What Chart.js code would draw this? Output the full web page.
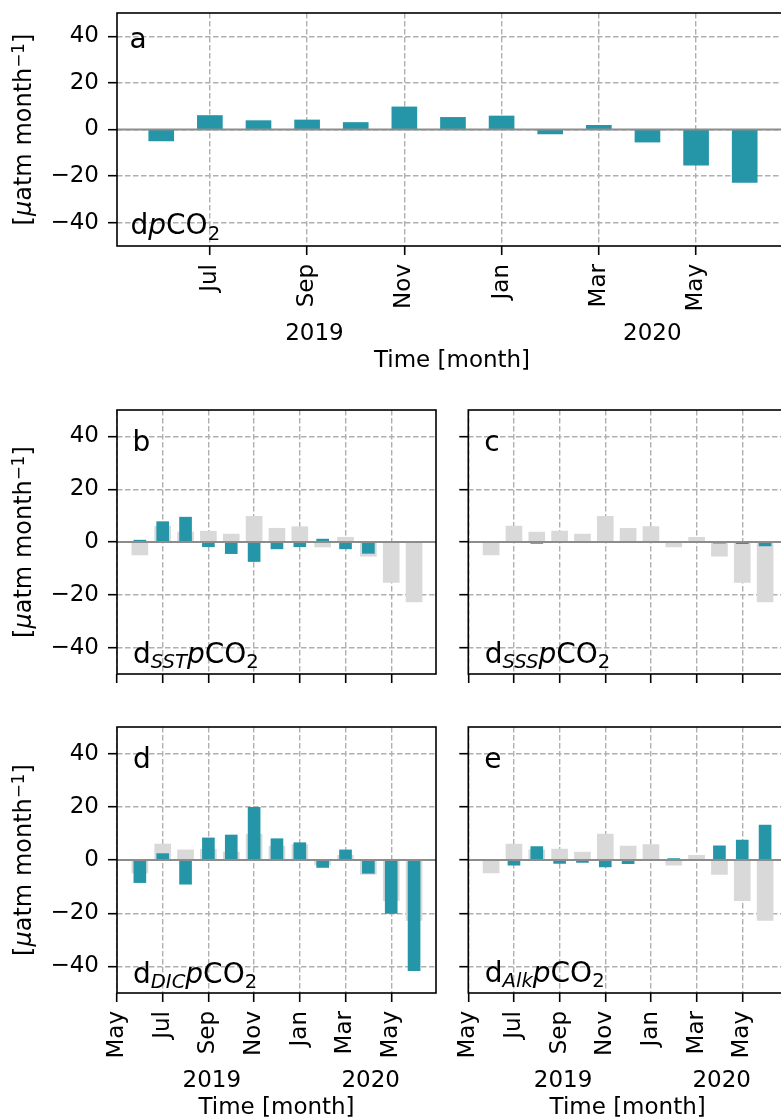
<!DOCTYPE html>
<html><head><meta charset="utf-8">
<script src="https://cdn.jsdelivr.net/npm/chart.js@4.4.1/dist/chart.umd.min.js"></script>
<style>
html,body{margin:0;padding:0;background:#fff;width:781px;height:1117px;overflow:hidden;position:relative}
canvas{position:absolute}
</style></head><body>
<canvas id="pa" width="900" height="385" style="left:0;top:0"></canvas>
<canvas id="pb" width="450" height="300" style="left:0;top:385px"></canvas>
<canvas id="pc" width="450" height="300" style="left:450px;top:385px"></canvas>
<canvas id="pd" width="450" height="440" style="left:0;top:685px"></canvas>
<canvas id="pe" width="450" height="440" style="left:450px;top:685px"></canvas>
<script>
// ---- data ----
const monthNames = ['May','Jun','Jul','Aug','Sep','Oct','Nov','Dec','Jan','Feb','Mar','Apr','May','Jun','Jul'];
const barMonths = [1,2,3,4,5,6,7,8,9,10,11,12,13]; // months since May 2019 (Jun 2019 .. Jun 2020)
const dpCO2 = [-4.9, 6.0, 3.8, 4.1, 3.0, 9.7, 5.2, 5.8, -1.9, 1.8, -5.4, -15.3, -22.7];
const dSST  = [0.7, 7.7, 9.4, -1.8, -4.4, -7.4, -2.6, -1.8, 1.1, -2.6, -4.3, 0, 0];
const dSSS  = [0, 0, -0.5, 0, 0, 0, 0, 0, 0, 0, -0.4, -0.6, -1.5];
const dDIC  = [-8.5, 2.4, -9.1, 8.3, 9.4, 19.8, 8.0, 6.5, -2.8, 3.8, -5.0, -20.1, -41.6];
const dAlk  = [0, -1.9, 5.0, -1.3, -0.9, -2.6, -1.4, 0, 0.5, 0, 5.3, 7.5, 13.1];
const yTicks = [-40, -20, 0, 20, 40];
const xTickMonths = [0, 2, 4, 6, 8, 10, 12, 14];
const years = ['2019', '2020'];
const yearPos = [4.15, 11.1];

// ---- style ----
const FAM = "'DejaVu Sans', sans-serif";
const TICK = 23, ANN = 28;
const TEAL = '#2496a8', GRAY = '#d9d9d9', GRID = '#b0b0b0', ZERO = '#8c8c8c';

const fmt = v => v < 0 ? '\u2212' + Math.abs(v) : String(v);

function richWidth(ctx, parts, size) {
  let w = 0;
  for (const p of parts) {
    const s = (p.sub || p.sup) ? size * 0.7 : size;
    ctx.font = (p.it ? 'italic ' : '') + s + 'px ' + FAM;
    w += ctx.measureText(p.t).width;
  }
  return w;
}
function drawRich(ctx, x, y, parts, size) {
  let cx = x;
  ctx.textAlign = 'left'; ctx.textBaseline = 'alphabetic';
  for (const p of parts) {
    const s = (p.sub || p.sup) ? size * 0.7 : size;
    ctx.font = (p.it ? 'italic ' : '') + s + 'px ' + FAM;
    const dy = p.sub ? size * 0.2 : (p.sup ? -size * 0.3 : 0);
    ctx.fillText(p.t, cx, y + dy);
    cx += ctx.measureText(p.t).width;
  }
}
const yTitleParts = [{t:'['},{t:'\u03bc',it:1},{t:'atm month'},{t:'\u22121',sup:1},{t:']'}];
const lab = sub => sub ? [{t:'d'},{t:sub,it:1,sub:1},{t:'p',it:1},{t:'CO'},{t:'2',sub:1}]
                       : [{t:'d'},{t:'p',it:1},{t:'CO'},{t:'2',sub:1}];

function makePanel(id, cfg) {
  const canvas = document.getElementById(id);
  const W = canvas.width, H = canvas.height, A = cfg.area;
  const datasets = [{
    data: barMonths.map((m, i) => ({x: m, y: cfg.comp[i]})),
    backgroundColor: TEAL, barThickness: cfg.compThick, grouped: false, order: 0
  }];
  if (cfg.total) datasets.push({
    data: barMonths.map((m, i) => ({x: m, y: cfg.total[i]})),
    backgroundColor: GRAY, barThickness: cfg.totThick, grouped: false, order: 1
  });
  const gridOpts = {color: GRID, lineWidth: 1.4, borderDash: [5.5, 2.5], drawTicks: true, offset: false,
    tickLength: 9, tickColor: '#000', tickWidth: 1.6, tickBorderDash: []};
  const zeroPad = ax => { ax.paddingLeft = ax.paddingRight = ax.paddingTop = ax.paddingBottom = 0; };
  const decor = {
    id: 'decor' + id,
    afterDatasetsDraw(chart) {
      const {ctx, chartArea: a, scales: {y}} = chart;
      const y0 = y.getPixelForValue(0);
      ctx.save();
      ctx.strokeStyle = ZERO; ctx.lineWidth = 2; ctx.setLineDash([]);
      ctx.beginPath(); ctx.moveTo(a.left, y0); ctx.lineTo(a.right, y0); ctx.stroke();
      ctx.strokeStyle = '#000'; ctx.lineWidth = 1.6;
      ctx.strokeRect(a.left, a.top, a.right - a.left, a.bottom - a.top);
      ctx.restore();
    },
    afterDraw(chart) {
      const {ctx, chartArea: a} = chart;
      ctx.save();
      ctx.fillStyle = '#000';
      ctx.font = ANN + 'px ' + FAM; ctx.textAlign = 'left'; ctx.textBaseline = 'alphabetic';
      ctx.fillText(cfg.letter, a.left + cfg.letterDx, a.top + cfg.letterDy);
      drawRich(ctx, a.left + cfg.labelDx, a.bottom + cfg.labelDy, cfg.label, ANN);
      if (cfg.xLabels) {
        const xs = chart.scales.x;
        ctx.font = TICK + 'px ' + FAM;
        for (const t of xs.ticks) {
          const px = xs.getPixelForValue(t.value);
          ctx.save(); ctx.translate(px, a.bottom + 18); ctx.rotate(-Math.PI / 2);
          ctx.textAlign = 'right'; ctx.textBaseline = 'middle';
          ctx.fillText(monthNames[t.value], 0, 0); ctx.restore();
        }
        ctx.textAlign = 'center'; ctx.textBaseline = 'alphabetic';
        years.forEach((yr, i) => ctx.fillText(yr, xs.getPixelForValue(yearPos[i]), a.bottom + 93.5));
        ctx.fillText('Time [month]', (a.left + a.right) / 2, a.bottom + 120.5);
      }
      if (cfg.yTitle) {
        ctx.save(); ctx.translate(31, (a.top + a.bottom) / 2); ctx.rotate(-Math.PI / 2);
        const w = richWidth(ctx, yTitleParts, TICK + 1);
        drawRich(ctx, -w / 2, 0, yTitleParts, TICK + 1);
        ctx.restore();
      }
      ctx.restore();
    }
  };
  return new Chart(canvas, {
    type: 'bar',
    data: {datasets},
    options: {
      responsive: false, animation: false, devicePixelRatio: 1, events: [],
      layout: {padding: {left: 0, top: A.t, right: W - A.r, bottom: 0}},
      plugins: {legend: {display: false}, tooltip: {enabled: false}, title: {display: false}},
      scales: {
        x: {
          type: 'linear', min: cfg.xmin, max: cfg.xmax, offset: false,
          afterBuildTicks: ax => { ax.ticks = xTickMonths.filter(v => v >= ax.min - 1e-9 && v <= ax.max + 1e-9).map(v => ({value: v})); },
          ticks: {display: false},
          grid: gridOpts,
          border: {display: false, dash: [5.5, 2.5]},
          afterFit: ax => { ax.height = H - A.b; zeroPad(ax); }
        },
        y: {
          type: 'linear', min: -50, max: 50,
          afterBuildTicks: ax => { ax.ticks = yTicks.map(v => ({value: v})); },
          ticks: {display: cfg.yLabels, autoSkip: false, padding: 9, color: '#000',
                  font: {family: FAM, size: TICK}, callback: v => fmt(v)},
          grid: gridOpts,
          border: {display: false, dash: [5.5, 2.5]},
          afterFit: ax => { ax.width = A.l; zeroPad(ax); }
        }
      }
    },
    plugins: [decor]
  });
}

makePanel('pa', {area: {l: 117, t: 13, r: 787, b: 246}, xmin: 0.09, xmax: 13.87,
  comp: dpCO2, total: null, compThick: 25, yLabels: true, xLabels: true, yTitle: true,
  letter: 'a', letterDx: 12.5, letterDy: 35.3, label: lab(null), labelDx: 13.5, labelDy: -11.7});
makePanel('pb', {area: {l: 117, t: 25, r: 436, b: 289}, xmin: 0, xmax: 13.96,
  comp: dSST, total: dpCO2, compThick: 12, totThick: 16, yLabels: true, xLabels: false, yTitle: true,
  letter: 'b', letterDx: 15.5, letterDy: 40.7, label: lab('SST'), labelDx: 16, labelDy: -11.3});
makePanel('pc', {area: {l: 18.3, t: 25, r: 337, b: 289}, xmin: 0, xmax: 13.96,
  comp: dSSS, total: dpCO2, compThick: 12, totThick: 16, yLabels: false, xLabels: false, yTitle: false,
  letter: 'c', letterDx: 16, letterDy: 40.7, label: lab('SSS'), labelDx: 16.5, labelDy: -11.3});
makePanel('pd', {area: {l: 117, t: 42, r: 436, b: 308}, xmin: 0, xmax: 13.96,
  comp: dDIC, total: dpCO2, compThick: 12, totThick: 16, yLabels: true, xLabels: true, yTitle: true,
  letter: 'd', letterDx: 16, letterDy: 41.3, label: lab('DIC'), labelDx: 16, labelDy: -10.5});
makePanel('pe', {area: {l: 18.3, t: 42, r: 337, b: 308}, xmin: 0, xmax: 13.96,
  comp: dAlk, total: dpCO2, compThick: 12, totThick: 16, yLabels: false, xLabels: true, yTitle: false,
  letter: 'e', letterDx: 16, letterDy: 41.3, label: lab('Alk'), labelDx: 16.5, labelDy: -11.3});
</script>
</body></html>
